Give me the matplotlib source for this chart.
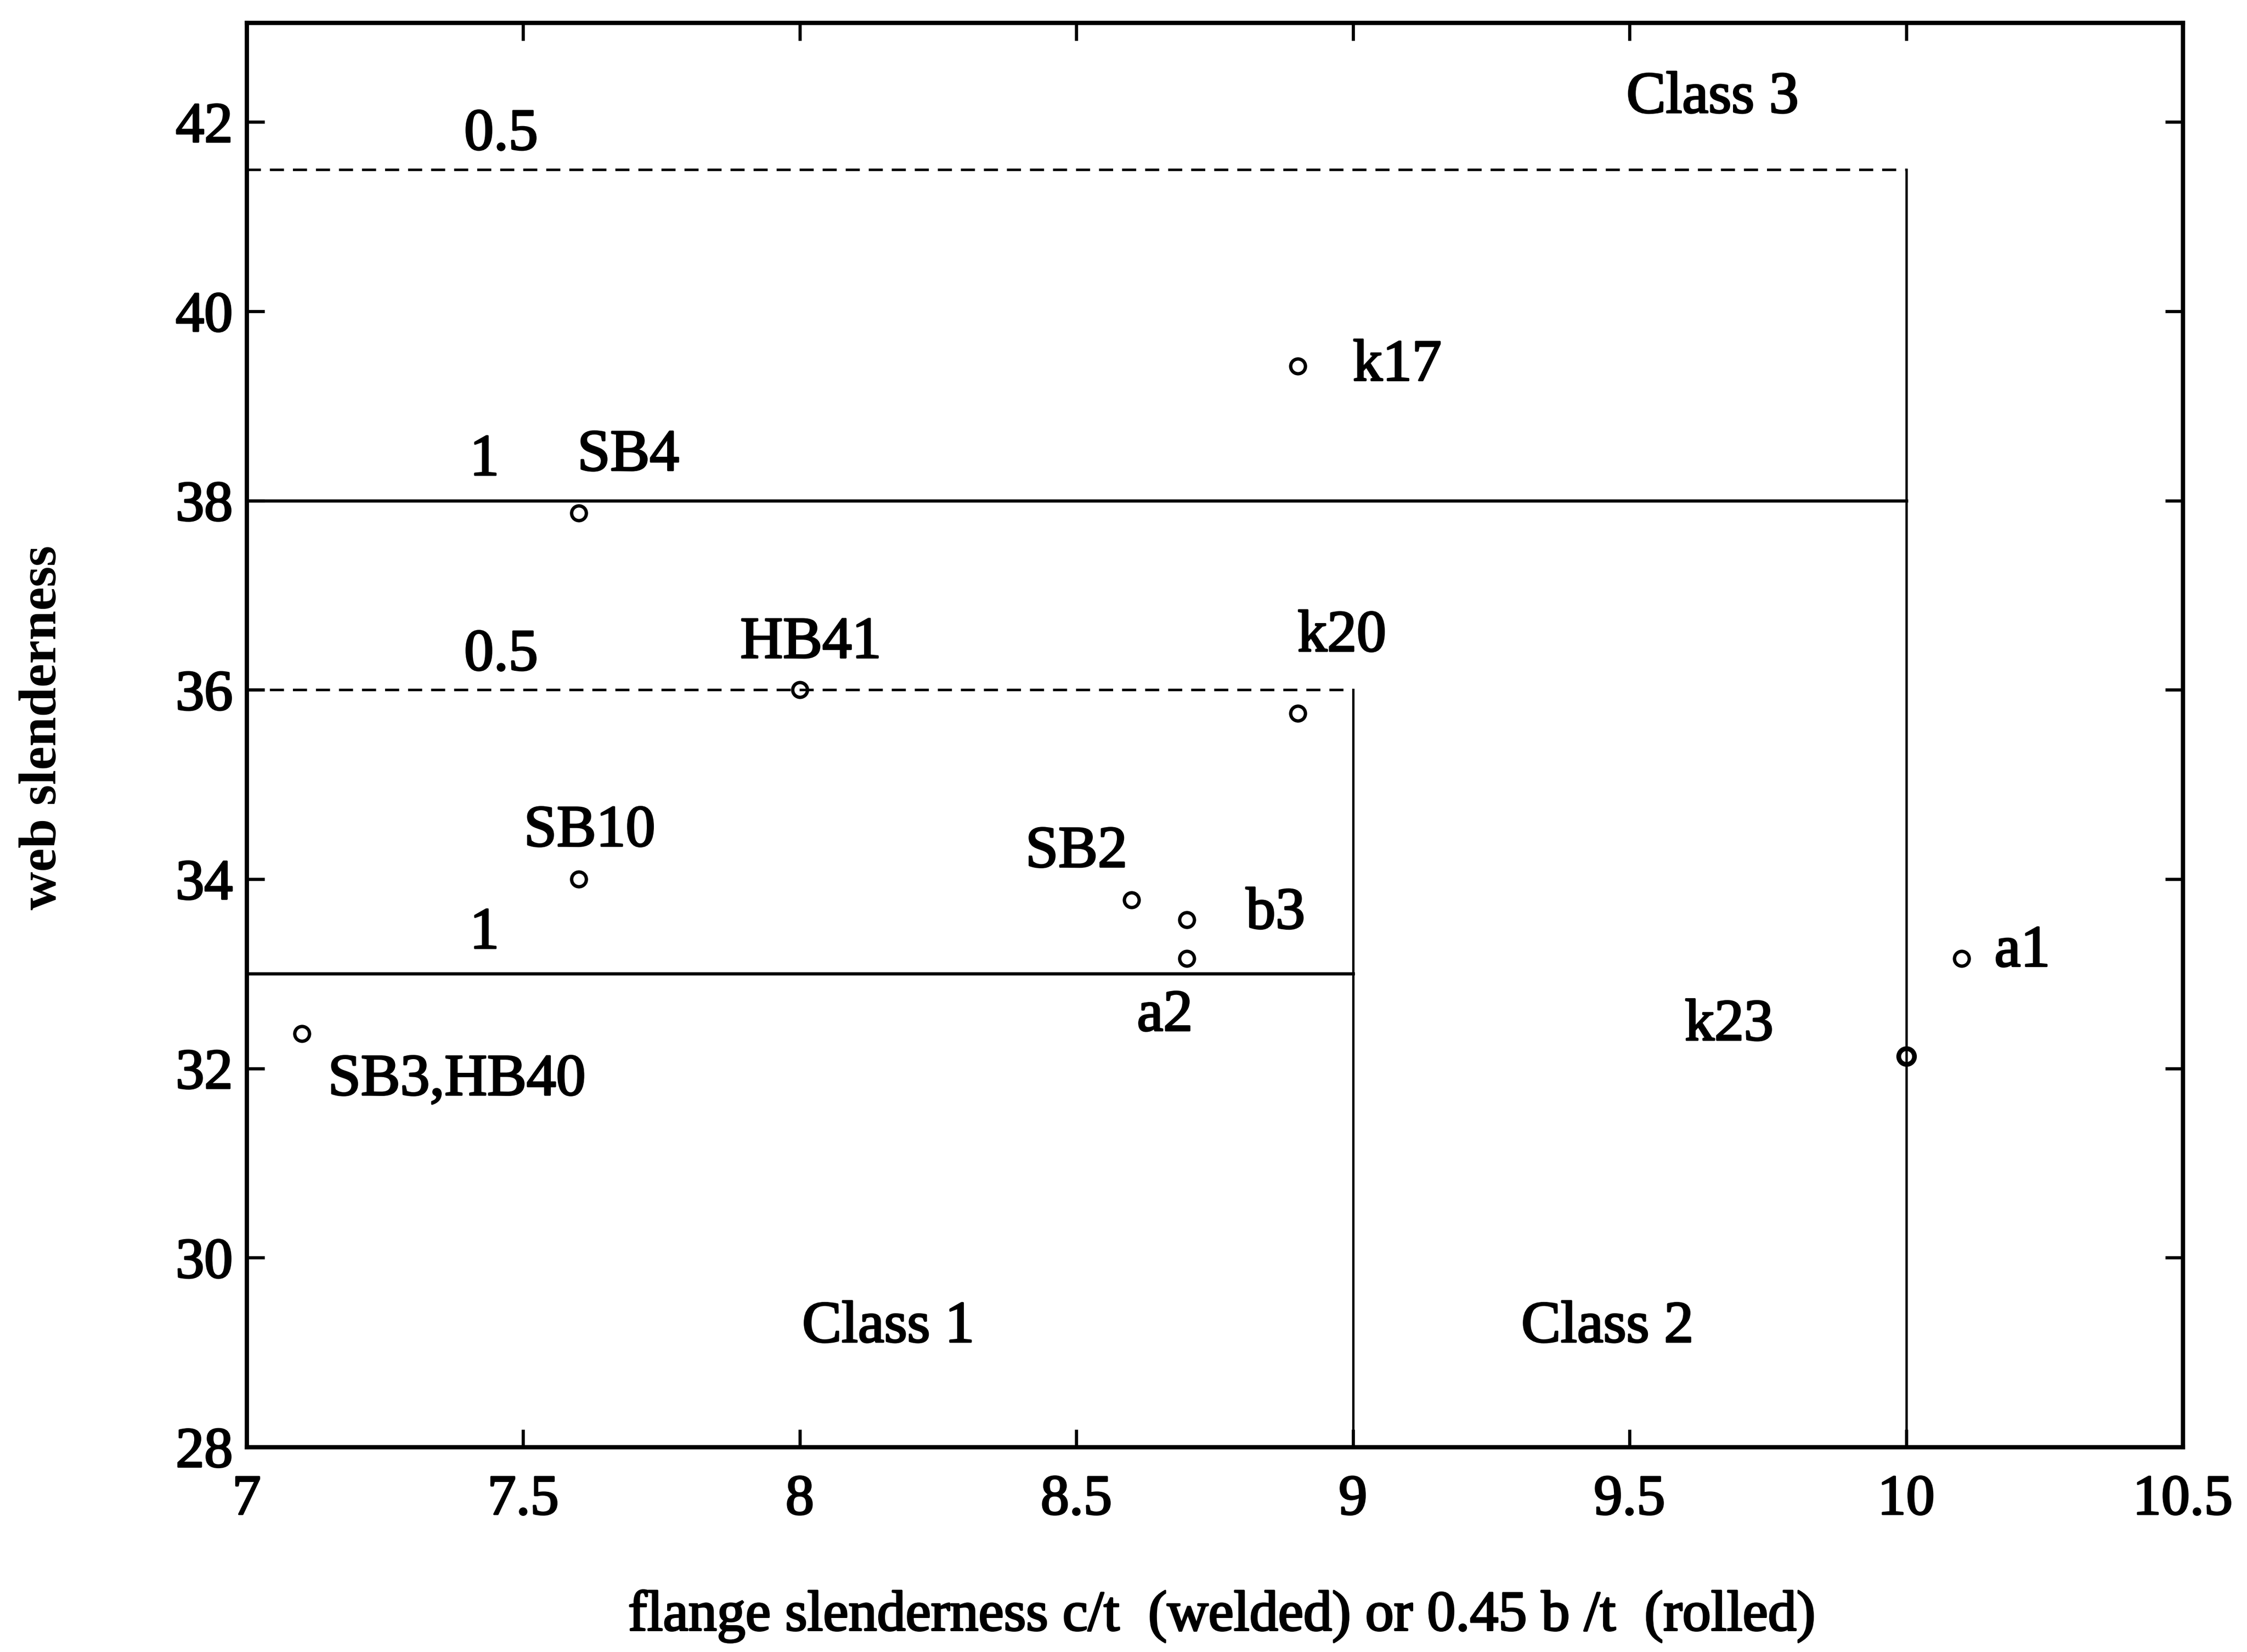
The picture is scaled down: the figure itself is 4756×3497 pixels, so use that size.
import matplotlib
matplotlib.use('Agg')
import matplotlib.pyplot as plt
import matplotlib.patheffects as pe

plt.rcParams['font.family'] = ['Liberation Serif', 'DejaVu Serif']

# test beams: flange slenderness, web slenderness, label
names = ['k17', 'SB4', 'HB41', 'k20', 'SB10', 'SB2', 'b3', 'a2', 'SB3,HB40', 'k23', 'a1']
flange = [8.9, 7.6, 8.0, 8.9, 7.6, 8.6, 8.7, 8.7, 7.1, 10.0, 10.1]
web = [39.42, 37.87, 36.0, 35.75, 34.0, 33.78, 33.57, 33.16, 32.37, 32.13, 33.16]
label_x = [9.08, 7.69, 8.02, 8.98, 7.62, 8.5, 8.86, 8.66, 7.38, 9.68, 10.21]
label_y = [39.42, 38.47, 36.49, 36.56, 34.5, 34.28, 33.63, 32.55, 31.87, 32.45, 33.23]

# class limits (flange limit, web limit for alpha = 1 and alpha = 0.5)
flange_lim = [9.0, 10.0]
web_lim_a1 = [33.0, 38.0]
web_lim_a05 = [36.0, 41.5]

x_min, x_max = 7.0, 10.5
y_min, y_max = 28.0, 43.05

# slightly heavier glyphs
heavy = [pe.withStroke(linewidth=0.9, foreground='k')]

fig = plt.figure(figsize=(4756 / 300, 3497 / 300), dpi=300)
ax = fig.add_axes([522 / 4756, 1 - 3063 / 3497, (4620 - 522) / 4756, (3063 - 48) / 3497])

for fl, w1, w05 in zip(flange_lim, web_lim_a1, web_lim_a05):
    ax.plot([x_min, fl], [w1, w1], color='k', lw=1.6)
    ax.plot([x_min, fl], [w05, w05], color='k', lw=1.3, dashes=(5.5, 3.5))
    ax.plot([fl, fl], [y_min, w05], color='k', lw=1.2)
    ax.text(7.43, w1 + 0.42, '1', fontsize=30, ha='center', va='center', path_effects=heavy)
    ax.text(7.46, w05 + 0.36, '0.5', fontsize=30, ha='center', va='center', path_effects=heavy)

ax.plot(flange, web, linestyle='none', marker='o', markersize=7.5,
        markerfacecolor='none', markeredgecolor='k', markeredgewidth=1.7)
# k23 sits right on the class 2 limit and is drawn heavier
ax.plot(flange[9], web[9], linestyle='none', marker='o', markersize=8,
        markerfacecolor='none', markeredgecolor='k', markeredgewidth=2.4)

for n, lx, ly in zip(names, label_x, label_y):
    ax.text(lx, ly, n, fontsize=30, ha='center', va='center', path_effects=heavy)

ax.text(9.65, 42.25, 'Class 3', fontsize=30, ha='center', va='center', path_effects=heavy)
ax.text(8.16, 29.26, 'Class 1', fontsize=30, ha='center', va='center', path_effects=heavy)
ax.text(9.46, 29.26, 'Class 2', fontsize=30, ha='center', va='center', path_effects=heavy)

ax.set_xlim(x_min, x_max)
ax.set_ylim(y_min, y_max)
ax.set_xticks([7, 7.5, 8, 8.5, 9, 9.5, 10, 10.5])
ax.set_xticklabels(['7', '7.5', '8', '8.5', '9', '9.5', '10', '10.5'])
ax.set_yticks([28, 30, 32, 34, 36, 38, 40, 42])
ax.tick_params(direction='in', length=9, width=1.6, top=True, right=True, labelsize=29)
ax.tick_params(axis='x', pad=14)
ax.tick_params(axis='y', pad=7)
for lab in ax.get_xticklabels() + ax.get_yticklabels():
    lab.set_path_effects(heavy)
for s in ax.spines.values():
    s.set_linewidth(2.2)

fig.text(853 / 1568, 1 - 1128 / 1153, 'flange slenderness c/t  (welded) or 0.45 b /t  (rolled)',
         fontsize=29, ha='center', va='center', path_effects=heavy)
fig.text(30 / 1568, 1 - 508 / 1153, 'web slenderness', fontsize=27, fontweight='bold',
         rotation=90, ha='center', va='center')

fig.savefig('out.png', dpi=300, facecolor='white')
